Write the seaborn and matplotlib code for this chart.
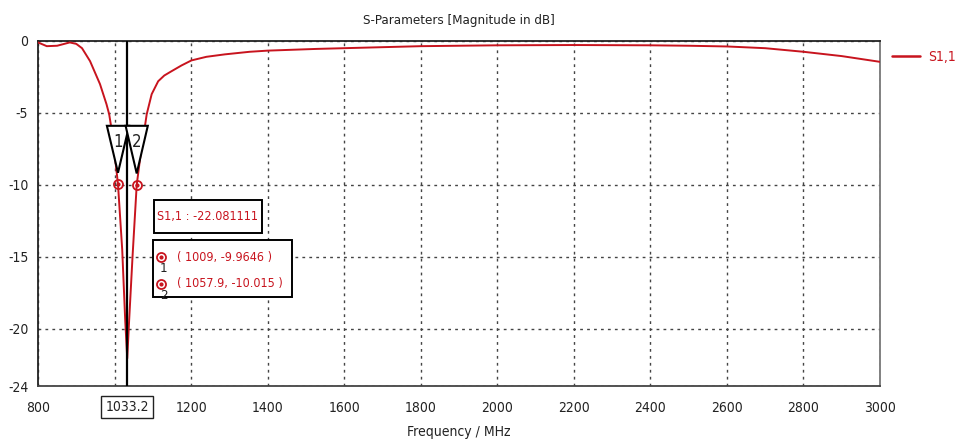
import matplotlib
matplotlib.use("Agg")
import matplotlib.pyplot as plt
from matplotlib import font_manager
from matplotlib.patches import Polygon, Rectangle
import pandas as pd
import seaborn as sns

# ---------------- data ----------------
freq_mhz = [800, 823, 850, 883, 900, 915, 936, 962, 979, 986, 995, 1000, 1009,
            1020, 1028, 1033.2, 1038, 1047, 1057.9, 1070, 1079, 1084, 1097, 1114,
            1130, 1149, 1175, 1201, 1240, 1288, 1353, 1400, 1528, 1600,
            1800, 2000, 2200, 2400, 2500, 2600, 2700, 2800, 2900, 3000]
s11_db = [-0.1, -0.36, -0.33, -0.1, -0.2, -0.5, -1.4, -3.0, -4.4, -5.1, -6.6, -7.8, -9.9646,
          -14.5, -19.5, -22.081111, -19.5, -15.0, -10.015, -7.5, -6.0, -5.1, -3.7, -2.8,
          -2.4, -2.1, -1.7, -1.35, -1.1, -0.93, -0.75, -0.67, -0.55, -0.5,
          -0.36, -0.3, -0.28, -0.3, -0.33, -0.38, -0.5, -0.75, -1.05, -1.45]
series_name = "S1,1"
marker_freq = [1009, 1057.9]
marker_db = [-9.9646, -10.015]
marker_labels = ["1", "2"]
cursor_freq = 1033.2
cursor_db = -22.081111
x_ticks = [800, 1000, 1200, 1400, 1600, 1800, 2000, 2200, 2400, 2600, 2800, 3000]
x_tick_labels = ["800", "", "1200", "1400", "1600", "1800", "2000", "2200",
                 "2400", "2600", "2800", "3000"]
y_ticks = [0, -5, -10, -15, -20, -24]
y_tick_labels = ["0", "-5", "-10", "-15", "-20", "-24"]
title = "S-Parameters [Magnitude in dB]"
x_label = "Frequency / MHz"

# ---------------- style ----------------
sns.set_theme(style="white")
has_cond = any(f.name == "DejaVu Sans" and str(f.stretch) in ("condensed", "semi-condensed", "500")
               for f in font_manager.fontManager.ttflist)
plt.rcParams["font.family"] = ["DejaVu Sans"]
if has_cond:
    plt.rcParams["font.stretch"] = "condensed"
    FS = 10
else:
    FS = 9

RED = "#c8141e"
TXT = "#222222"

fig = plt.figure(figsize=(9.58, 4.42), dpi=100)
ax = fig.add_axes([38 / 958, 1 - 386 / 442, (880 - 38) / 958, (386 - 41) / 442])

df = pd.DataFrame({"Frequency": freq_mhz, "S11": s11_db})
sns.lineplot(data=df, x="Frequency", y="S11", ax=ax, color=RED, lw=1.4,
             label=series_name, zorder=3)

ax.set_xlim(800, 3000)
ax.set_ylim(-24, 0)
ax.set_xticks(x_ticks)
ax.set_xticklabels(x_tick_labels, fontsize=FS)
ax.set_yticks(y_ticks)
ax.set_yticklabels(y_tick_labels, fontsize=FS)
ax.tick_params(axis="both", direction="inout", length=6, width=1, color="#333333",
               pad=4, labelcolor=TXT)
ax.tick_params(axis="x", pad=8)

ax.grid(True, linestyle=(0, (2, 3)), color="#444444", lw=1.0)
ax.set_xlabel(x_label, fontsize=FS, color=TXT, va="center")
ax.xaxis.set_label_coords(0.5, (386 - 432) / 345)
ax.set_ylabel("")
ax.set_title(title, fontsize=FS - 0.5, color=TXT, pad=12)

for side, c in [("left", "#222222"), ("bottom", "#444444"), ("top", "#222222"), ("right", "#777777")]:
    ax.spines[side].set_visible(True)
    ax.spines[side].set_color(c)
    ax.spines[side].set_linewidth(1.3)

# cursor line and its boxed tick label
ax.axvline(cursor_freq, color="black", lw=1.6, zorder=4)
ax.annotate(f"{cursor_freq}", xy=(cursor_freq, 0), xycoords=("data", "axes fraction"),
            xytext=(0, -21), textcoords="offset pixels", fontsize=FS, color=TXT,
            ha="center", va="center",
            bbox=dict(boxstyle="square,pad=0.3", fc="white", ec="#222222", lw=1.0))

# markers
ax.plot(marker_freq, marker_db, ls="none", marker="o", ms=6.5, mfc="none",
        mec=RED, mew=1.3, zorder=5)
ax.plot(marker_freq, marker_db, ls="none", marker="o", ms=2, mfc=RED,
        mec=RED, zorder=5)

# triangles above markers
half_w = 29
top_db = -5.9
apex_off = 0.8
for mf, md, lab in zip(marker_freq, marker_db, marker_labels):
    tri = Polygon([[mf - half_w, top_db], [mf + half_w, top_db], [mf, md + apex_off]],
                  closed=True, fc="white", ec="black", lw=1.5, zorder=6)
    ax.add_patch(tri)
    ax.text(mf, -7.0, lab, fontsize=FS + 2, ha="center", va="center",
            color=TXT, zorder=7)

# info box 1
box_kw = dict(transform=ax.transAxes, fill=True, fc="white", ec="black", lw=1.4, zorder=8)
b1 = ((154 - 38) / 842, (386 - 233) / 345, (262 - 154) / 842, (233 - 200) / 345)
ax.add_patch(Rectangle((b1[0], b1[1]), b1[2], b1[3], **box_kw))
ax.text(b1[0] + 0.004, b1[1] + b1[3] / 2, f"{series_name} : {cursor_db:.6f}",
        transform=ax.transAxes, fontsize=FS - 1, color=RED, ha="left", va="center", zorder=9)

# info box 2
b2 = ((153 - 38) / 842, (386 - 297) / 345, (292 - 153) / 842, (297 - 240) / 345)
ax.add_patch(Rectangle((b2[0], b2[1]), b2[2], b2[3], **box_kw))
rows_y = [(386 - 257) / 345, (386 - 284) / 345]
for (mf, md, lab, ry) in zip(marker_freq, marker_db, marker_labels, rows_y):
    sx = (161 - 38) / 842
    ax.plot([sx], [ry], transform=ax.transAxes, marker="o", ms=6.5, mfc="none",
            mec=RED, mew=1.3, ls="none", zorder=9, clip_on=False)
    ax.plot([sx], [ry], transform=ax.transAxes, marker="o", ms=2, mfc=RED,
            mec=RED, ls="none", zorder=9, clip_on=False)
    ax.text(sx + 0.003, ry - 0.033, lab, transform=ax.transAxes, fontsize=FS - 0.5,
            color=TXT, ha="center", va="center", zorder=9)
    ax.text((177 - 38) / 842, ry, f"( {mf:g}, {md:g} )", transform=ax.transAxes,
            fontsize=FS - 1, color=RED, ha="left", va="center", zorder=9)

# legend
leg = ax.legend(loc="center left", bbox_to_anchor=(892 / 958, 1 - 57 / 442),
                bbox_transform=fig.transFigure, frameon=False, fontsize=FS,
                handlelength=2.0, handletextpad=0.6, borderaxespad=0, borderpad=0)
for t in leg.get_texts():
    t.set_color(RED)
for h in leg.get_lines():
    h.set_linewidth(1.8)

fig.savefig("out.png", dpi=100)
